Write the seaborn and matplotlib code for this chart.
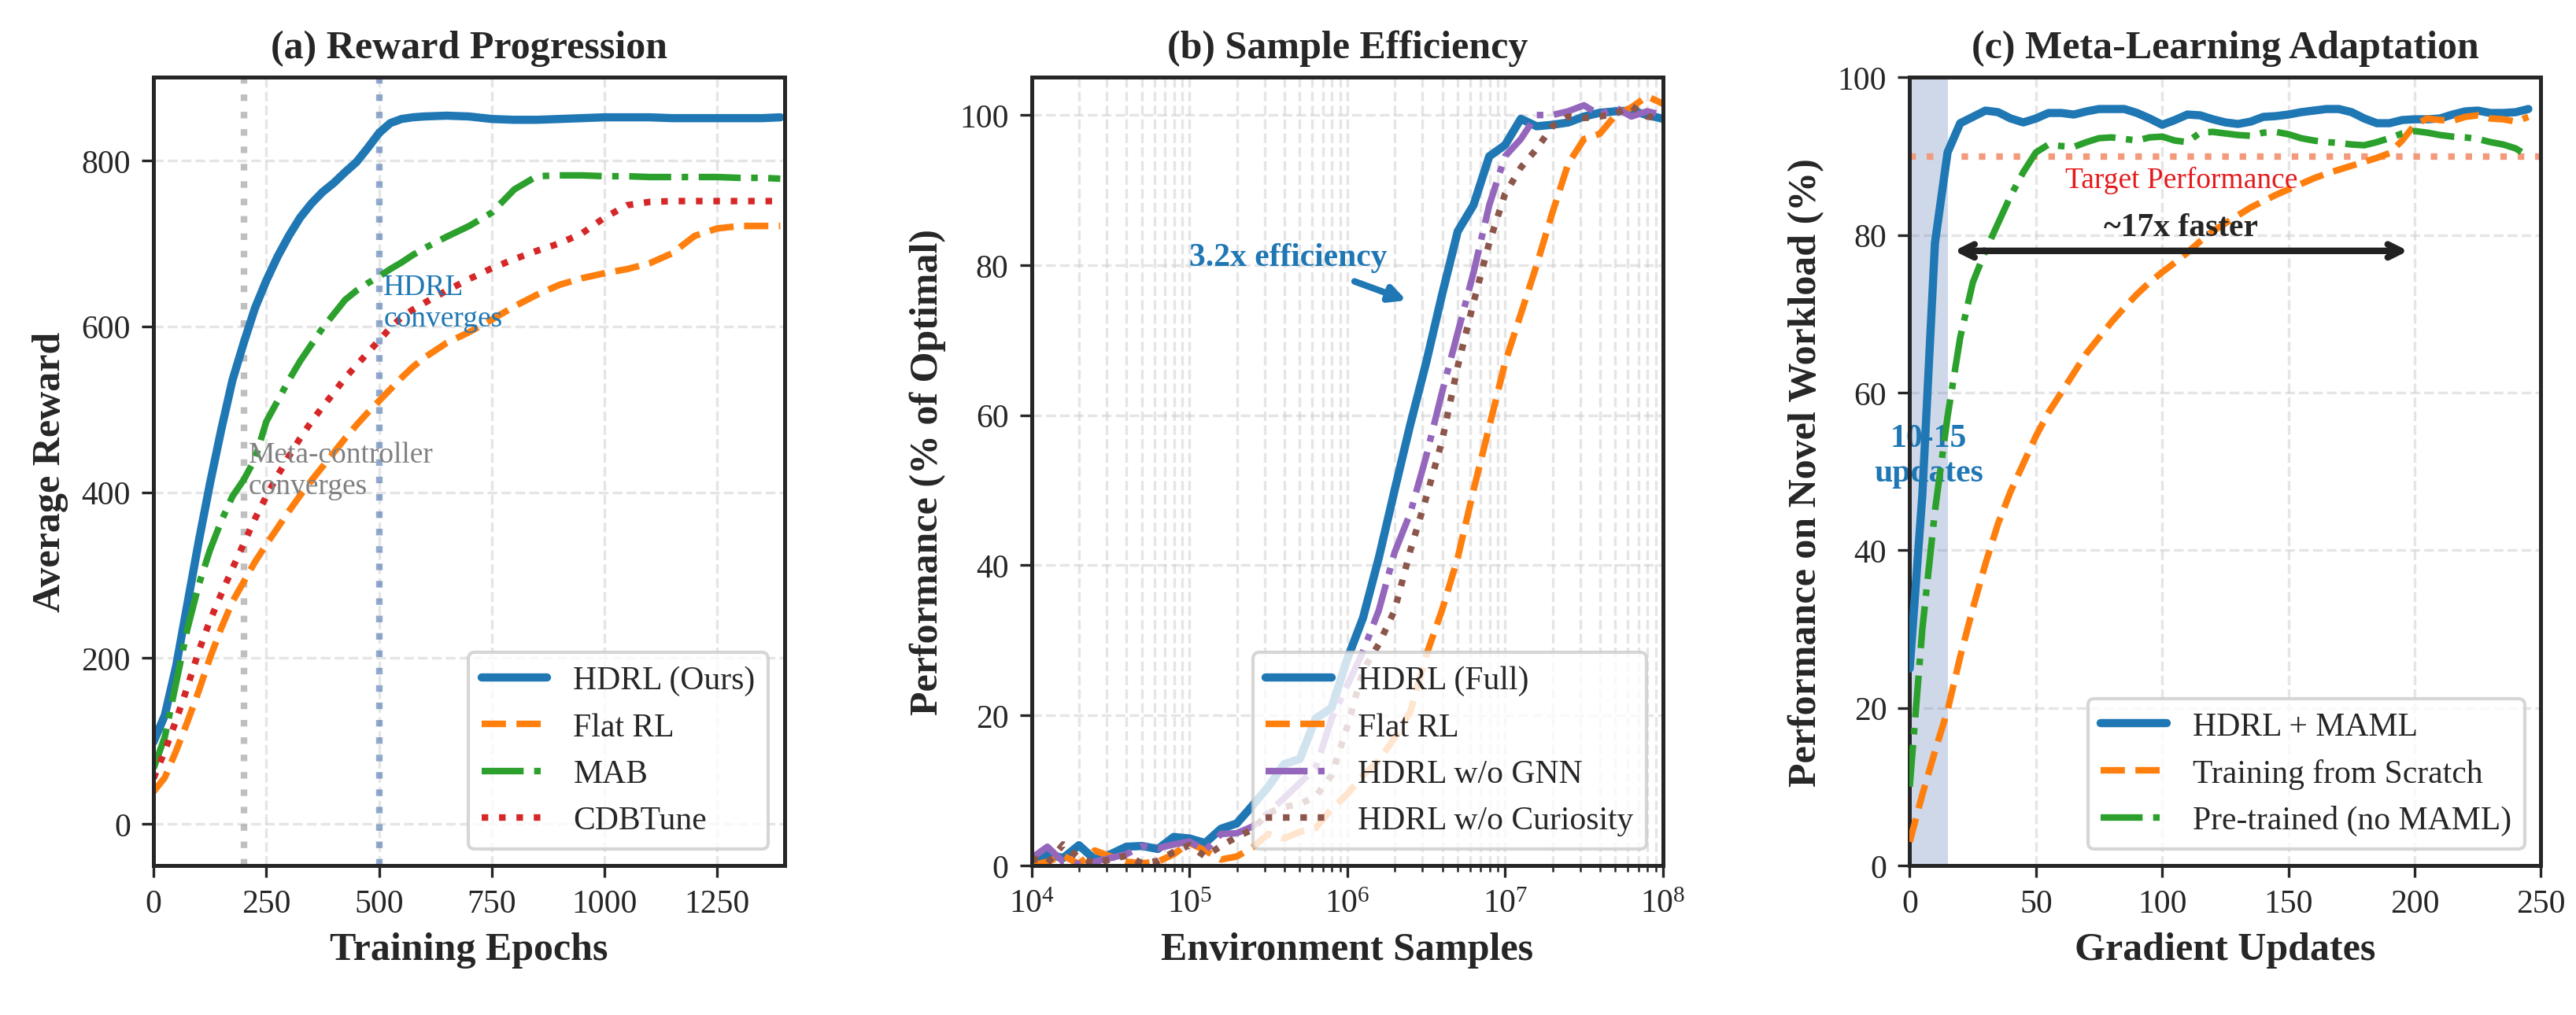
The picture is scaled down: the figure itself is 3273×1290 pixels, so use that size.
import numpy as np
import pandas as pd
import seaborn as sns
import matplotlib.pyplot as plt

# ---------------- data ----------------
# (a) reward progression
epochs = [0, 25, 50, 75, 100, 125, 150, 175, 200, 225, 250, 275, 300, 325, 350,
          375, 400, 425, 450, 475, 500, 525, 550, 575, 600, 650, 700, 750, 800,
          850, 900, 950, 1000, 1050, 1100, 1150, 1200, 1250, 1300, 1350, 1390]
reward_hdrl = [99, 131, 190, 265, 340, 410, 475, 535, 580, 622, 655, 684, 709, 731,
               748, 762, 773, 786, 798, 815, 833, 845, 850, 852, 853, 854, 853, 850,
               849, 849, 850, 851, 852, 852, 852, 851, 851, 851, 851, 851, 852]
reward_flat = [39, 56, 88, 123, 160, 200, 236, 268, 292, 316, 337, 357, 377, 396,
               414, 431, 448, 465, 481, 496, 510, 524, 538, 551, 562, 580, 593, 608,
               624, 638, 650, 658, 664, 669, 676, 688, 709, 718, 721, 721, 721]
reward_mab = [67, 105, 170, 235, 288, 330, 365, 395, 415, 440, 485, 510, 535, 558,
              578, 598, 615, 632, 643, 652, 660, 669, 677, 686, 694, 708, 721, 737,
              765, 781, 782, 782, 781, 781, 780, 780, 780, 780, 779, 779, 778]
reward_cdb = [55, 88, 125, 165, 208, 245, 277, 308, 338, 368, 395, 420, 443, 465,
              485, 503, 520, 538, 553, 568, 583, 598, 611, 620, 628, 643, 657, 670,
              681, 691, 700, 712, 731, 746, 750, 751, 751, 751, 751, 751, 751]

# (b) sample efficiency, samples as powers of ten
sample_exp = [4.0, 4.1, 4.2, 4.3, 4.4, 4.5, 4.6, 4.7, 4.8, 4.9, 5.0, 5.1, 5.2, 5.3,
              5.4, 5.5, 5.6, 5.7, 5.8, 5.9, 6.0, 6.1, 6.2, 6.3, 6.4, 6.5, 6.6, 6.7,
              6.8, 6.9, 7.0, 7.1, 7.2, 7.3, 7.4, 7.5, 7.6, 7.7, 7.8, 7.9, 8.0]
perf_full = [0.5, 1.5, 1.0, 2.7, 0.8, 1.5, 2.5, 2.6, 2.2, 3.8, 3.6, 3.0, 4.9, 5.6,
             8.0, 10.5, 13.5, 14.2, 19.6, 21.0, 27.5, 33, 41, 50, 58.8, 67, 76, 84.5,
             88, 94.5, 96.0, 99.5, 98.5, 98.7, 99.0, 99.8, 100.3, 100.5, 100.6, 100, 99.5]
perf_flat = [0.0, 0.5, 1.3, 0.2, 2.0, 1.2, 0.5, 0.3, 0.5, 1.5, 3.0, 2.0, 0.8, 1.2,
             2.4, 4.2, 3.6, 4.5, 5.0, 7.5, 9.5, 12, 14, 17, 20.5, 28, 34, 41,
             50, 58.5, 67, 73.5, 80, 87, 93.5, 96.8, 97.5, 100, 101, 102.5, 101.5]
perf_nognn = [1.0, 2.5, 0.5, 0.2, 0.5, 1.0, 1.5, 2.6, 2.3, 2.8, 3.2, 2.0, 4.2, 4.3,
              5.2, 7.0, 9.0, 11, 13, 19.5, 24, 28.5, 34, 41.7, 47, 54.5, 63, 71,
              79, 88, 94.5, 96.8, 100, 100, 100.5, 101.3, 100, 101, 99.8, 100.5, 100]
perf_nocur = [1.0, 0.3, 2.8, 1.0, 0.3, 0.8, 1.3, 0.3, 0.6, 1.8, 2.7, 1.2, 2.6, 3.8,
              4.8, 7.0, 7.8, 8.2, 9.2, 12.0, 18.5, 26, 29.5, 34, 42, 49, 56.5, 66.5,
              75, 83, 89.5, 93, 95.5, 98.5, 99.8, 99.6, 99.8, 100.2, 101.2, 99.8, 99.5]

# (c) meta-learning adaptation
updates = [0, 5, 10, 15, 20, 25, 30, 35, 40, 45, 50, 55, 60, 65, 70, 75, 80, 85,
           90, 95, 100, 105, 110, 115, 120, 125, 130, 135, 140, 145, 150, 155, 160,
           165, 170, 175, 180, 185, 190, 195, 200, 205, 210, 215, 220, 225, 230,
           235, 240, 245]
adapt_maml = [25, 47, 79, 90.5, 94.2, 95.0, 95.8, 95.6, 94.8, 94.3, 94.8, 95.5, 95.5,
              95.3, 95.7, 96.0, 96.0, 96.0, 95.5, 94.8, 94.0, 94.6, 95.3, 95.2, 94.7,
              94.3, 94.1, 94.4, 95.0, 95.1, 95.3, 95.6, 95.8, 96.0, 96.0, 95.6, 94.8,
              94.2, 94.2, 94.6, 94.7, 94.7, 94.8, 95.3, 95.7, 95.8, 95.5, 95.5, 95.6, 96.0]
adapt_scratch = [3, 9, 14.5, 19.7, 26.5, 32.6, 38.3, 43.4, 47.5, 51, 54.5, 57.5, 60,
                 62.5, 65, 67, 69, 70.8, 72.5, 74, 75.3, 76.5, 77.8, 79.2, 80.5, 81.5,
                 82.5, 83.5, 84.3, 85.1, 85.8, 86.5, 87.2, 87.8, 88.3, 88.8, 89.3,
                 89.8, 90.4, 92.0, 94.0, 94.8, 94.6, 94.5, 95.0, 95.2, 94.8, 94.7, 94.4, 95.0]
adapt_pretrained = [10, 30, 45, 57, 67, 74, 78, 81.5, 85, 88, 90.5, 91.5, 91.3, 91.2,
                    91.8, 92.3, 92.4, 92.2, 92.0, 92.4, 92.5, 92.0, 91.8, 93.0, 93.1,
                    92.9, 92.7, 92.6, 93.0, 93.1, 92.8, 92.3, 92.0, 91.8, 91.7, 91.5,
                    91.4, 91.8, 92.3, 92.9, 93.2, 93.0, 92.7, 92.5, 92.4, 92.2, 91.8,
                    91.5, 91.0, 90.0]

# ---------------- style ----------------
sns.set_style("ticks")
plt.rcParams['font.family'] = ['Liberation Serif', 'DejaVu Serif']
plt.rcParams['mathtext.fontset'] = 'stix'
plt.rcParams['axes.linewidth'] = 1.2
plt.rcParams['xtick.major.size'] = 3.5
plt.rcParams['ytick.major.size'] = 3.5
plt.rcParams['xtick.minor.size'] = 2
plt.rcParams['xtick.labelsize'] = 10
plt.rcParams['ytick.labelsize'] = 10

blue, orange, green, red = '#1f77b4', '#ff7f0e', '#2ca02c', '#d62728'
purple, brown = '#9467bd', '#8c564b'

fig, axes = plt.subplots(1, 3, figsize=(10.91, 4.303), dpi=300)
plt.subplots_adjust(left=0.0596, right=0.9864, bottom=0.1472, top=0.923, wspace=0.391)


def finish(ax, title, xlabel, ylabel):
    ax.set_title(title, fontsize=12, fontweight='bold')
    ax.set_xlabel(xlabel, fontsize=12, fontweight='bold')
    ax.set_ylabel(ylabel, fontsize=12, fontweight='bold')
    ax.legend(loc='lower right', fontsize=10, framealpha=0.8, edgecolor='#cccccc')


# (a)
ax = axes[0]
ax.grid(True, linestyle='--', alpha=0.5)
ax.axvline(200, color='gray', linestyle=':', lw=2, alpha=0.5)
ax.axvline(500, color='#4c72b0', linestyle=':', lw=2, alpha=0.6)
sns.lineplot(x=epochs, y=reward_hdrl, ax=ax, color=blue, lw=2.5, label='HDRL (Ours)')
sns.lineplot(x=epochs, y=reward_flat, ax=ax, color=orange, lw=2, linestyle='--', label='Flat RL')
sns.lineplot(x=epochs, y=reward_mab, ax=ax, color=green, lw=2, linestyle='-.', label='MAB')
sns.lineplot(x=epochs, y=reward_cdb, ax=ax, color=red, lw=2, linestyle=':', label='CDBTune')
ax.text(210, 426, 'Meta-controller\nconverges', color='gray', fontsize=9, va='center')
ax.text(510, 628, 'HDRL\nconverges', color=blue, fontsize=9, va='center')
ax.set_xlim(0, 1400)
ax.set_ylim(-50, 900)
ax.set_xticks([0, 250, 500, 750, 1000, 1250])
ax.set_yticks([0, 200, 400, 600, 800])
finish(ax, '(a) Reward Progression', 'Training Epochs', 'Average Reward')

# (b)
ax = axes[1]
samples = 10 ** np.array(sample_exp)
ax.set_xscale('log')
ax.grid(True, which='both', linestyle='--', alpha=0.5)
sns.lineplot(x=samples, y=perf_full, ax=ax, color=blue, lw=2.5, label='HDRL (Full)')
sns.lineplot(x=samples, y=perf_flat, ax=ax, color=orange, lw=2, linestyle='--', label='Flat RL')
sns.lineplot(x=samples, y=perf_nognn, ax=ax, color=purple, lw=2, linestyle='-.', label='HDRL w/o GNN')
sns.lineplot(x=samples, y=perf_nocur, ax=ax, color=brown, lw=2, linestyle=':', label='HDRL w/o Curiosity')
ax.annotate('3.2x efficiency', xy=(2.6e6, 75), xytext=(1e5, 80), fontsize=10,
            fontweight='bold', color=blue,
            arrowprops=dict(arrowstyle='-|>', color=blue, lw=2))
ax.set_xlim(1e4, 1e8)
ax.set_ylim(0, 105)
ax.set_yticks([0, 20, 40, 60, 80, 100])
finish(ax, '(b) Sample Efficiency', 'Environment Samples', 'Performance (% of Optimal)')

# (c)
ax = axes[2]
ax.grid(True, linestyle='--', alpha=0.5)
ax.axvspan(0, 15, color='#4c72b0', alpha=0.27, lw=0)
ax.axhline(90, color='#f39a7c', linestyle=':', lw=2)
sns.lineplot(x=updates, y=adapt_maml, ax=ax, color=blue, lw=2.5, label='HDRL + MAML', zorder=3)
sns.lineplot(x=updates, y=adapt_scratch, ax=ax, color=orange, lw=2, linestyle='--',
             label='Training from Scratch', zorder=3)
sns.lineplot(x=updates, y=adapt_pretrained, ax=ax, color=green, lw=2, linestyle='-.',
             label='Pre-trained (no MAML)', zorder=3)
ax.text(107.5, 87, 'Target Performance', color='#e41a1c', fontsize=9, ha='center', va='center')
ax.annotate('', xy=(15, 78), xytext=(200, 78),
            arrowprops=dict(arrowstyle='<->', color='#222222', lw=2))
ax.text(107.5, 81, '~17x faster', fontsize=10, fontweight='bold', ha='center', va='center')
ax.text(7.5, 52, '10-15\nupdates', color=blue, fontsize=10, fontweight='bold',
        ha='center', va='center', zorder=2)
ax.set_xlim(0, 250)
ax.set_ylim(0, 100)
ax.set_xticks([0, 50, 100, 150, 200, 250])
finish(ax, '(c) Meta-Learning Adaptation', 'Gradient Updates', 'Performance on Novel Workload (%)')

fig.savefig('out.png', dpi=300)
